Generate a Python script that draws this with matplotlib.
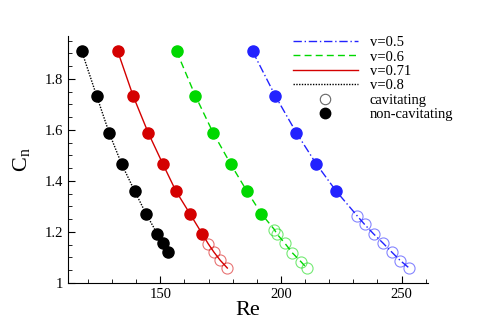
import matplotlib
matplotlib.use("Agg")
import matplotlib.pyplot as plt
from matplotlib.lines import Line2D
from matplotlib.ticker import MultipleLocator, FormatStrFormatter

plt.rcParams['font.family'] = ['Liberation Serif', 'DejaVu Serif']
plt.rcParams['mathtext.fontset'] = 'custom'
plt.rcParams['mathtext.rm'] = 'Liberation Serif'
plt.rcParams['mathtext.it'] = 'Liberation Serif'

# data
labels = ['v=0.5', 'v=0.6', 'v=0.71', 'v=0.8']
colors = ['#2222ff', '#00d800', '#d40000', 'black']
styles = [(0, (6, 2, 1, 2)), (0, (5, 3)), '-', (0, (1, 1))]

re_solid = [
    [188.3, 197.6, 206.4, 214.7, 222.9],
    [156.8, 164.5, 171.9, 179.2, 185.9, 191.9],
    [132.4, 138.7, 145.0, 151.1, 156.5, 162.3, 167.4],
    [117.5, 123.6, 128.8, 134.0, 139.4, 144.1, 148.8, 151.2, 153.3],
]
cn_solid = [
    [1.908, 1.735, 1.589, 1.466, 1.360],
    [1.908, 1.735, 1.589, 1.466, 1.360, 1.271],
    [1.908, 1.735, 1.589, 1.466, 1.360, 1.271, 1.192],
    [1.908, 1.735, 1.589, 1.466, 1.360, 1.271, 1.192, 1.155, 1.121],
]
re_cav = [
    [231.5, 234.7, 238.4, 242.2, 246.0, 249.5, 252.9],
    [197.3, 198.3, 201.5, 204.8, 208.3, 210.7],
    [169.9, 172.2, 174.8, 177.8],
    [],
]
cn_cav = [
    [1.264, 1.229, 1.192, 1.157, 1.120, 1.087, 1.060],
    [1.209, 1.192, 1.157, 1.117, 1.083, 1.058],
    [1.153, 1.121, 1.089, 1.058],
    [],
]

fig = plt.figure(figsize=(4.81, 3.21), dpi=100)
ax = fig.add_axes([0.141, 0.119, 0.749, 0.770])

handles = []
for i in range(len(labels)):
    ax.plot(re_solid[i] + re_cav[i], cn_solid[i] + cn_cav[i], linestyle=styles[i],
            color=colors[i], lw=1.0, zorder=2)
    ax.plot(re_solid[i], cn_solid[i], 'o', color=colors[i], ms=8, mec=colors[i], zorder=3)
    if re_cav[i]:
        ax.plot(re_cav[i], cn_cav[i], 'o', mfc='none', mec=colors[i], ms=8, mew=0.8,
                alpha=0.55, zorder=3)
    handles.append(Line2D([], [], color=colors[i], linestyle=styles[i], lw=1.0))

handles.append(Line2D([], [], marker='o', ls='none', mfc='none', mec='0.4', ms=7.5, mew=0.8))
handles.append(Line2D([], [], marker='o', ls='none', color='black', ms=7.5))
leg = fig.legend(handles, labels + ['cavitating', 'non-cavitating'], loc='upper left',
                 bbox_to_anchor=(293 / 481, 1 - 36 / 321), frameon=False, fontsize=10.5,
                 handlelength=4.45, labelspacing=0.08, handletextpad=0.8,
                 borderpad=0, borderaxespad=0)

ax.set_xlim(111.7, 261)
ax.set_ylim(1.0, 1.97)
ax.xaxis.set_major_locator(MultipleLocator(50))
ax.xaxis.set_minor_locator(MultipleLocator(10))
ax.yaxis.set_major_locator(MultipleLocator(0.2))
ax.yaxis.set_minor_locator(MultipleLocator(0.05))
ax.yaxis.set_major_formatter(FormatStrFormatter('%g'))
ax.tick_params(which='both', direction='in', labelsize=10.5)
ax.tick_params(which='major', length=5)
ax.tick_params(which='minor', length=3)
ax.spines['top'].set_visible(False)
ax.spines['right'].set_visible(False)

ax.set_xlabel('Re', fontsize=16, labelpad=0)
ax.set_ylabel(r'C$_\mathrm{n}$', fontsize=16, labelpad=9)

fig.savefig('out.png', dpi=100)
